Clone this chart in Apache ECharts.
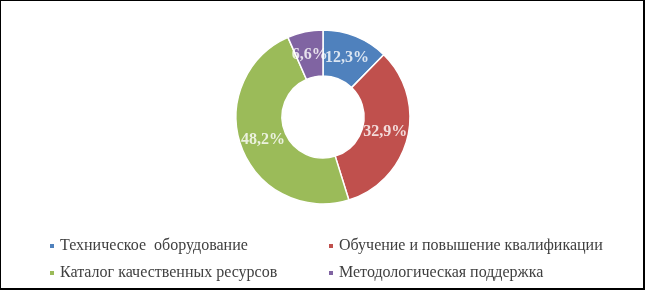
<!DOCTYPE html>
<html>
<head>
<meta charset="utf-8">
<script src="https://cdn.jsdelivr.net/npm/echarts@6/dist/echarts.min.js"></script>
<style>
html,body{margin:0;padding:0;background:#fff;}
#c{width:645px;height:290px;box-sizing:border-box;border:1px solid #000;border-right-width:2px;border-bottom-width:2px;}
</style>
</head>
<body>
<div id="c"></div>
<script>
const categories = ['Техническое  оборудование', 'Обучение и повышение квалификации', 'Каталог качественных ресурсов', 'Методологическая поддержка'];
const values = [12.3, 32.9, 48.2, 6.6];
const colors = ['#4F81BD', '#C0504D', '#9BBB59', '#8064A2'];

const total = values.reduce((a, b) => a + b, 0);
let acc = 0;
const midAngles = values.map(v => { const m = acc + v / 2; acc += v; return m; });

const serif = '"Liberation Serif", "Times New Roman", serif';
const chart = echarts.init(document.getElementById('c'), null, {renderer: 'canvas'});
const legendText = {fontFamily: serif, fontSize: 16, color: '#404040'};
const C = [322, 116], R0 = 41, R1 = 87;
chart.setOption({
  animation: false,
  color: colors,
  legend: [
    {data: [categories[0], categories[2]], orient: 'vertical', left: 47, top: 237, itemWidth: 6, itemHeight: 6, itemGap: 11, icon: 'rect', textStyle: legendText, padding: 0},
    {data: [categories[1], categories[3]], orient: 'vertical', left: 326, top: 237, itemWidth: 6, itemHeight: 6, itemGap: 11, icon: 'rect', textStyle: legendText, padding: 0}
  ],
  polar: {center: C, radius: R1},
  angleAxis: {type: 'value', min: 0, max: total, startAngle: 90, clockwise: true, show: false},
  radiusAxis: {type: 'value', min: 0, max: R1, show: false},
  series: [{
    type: 'pie',
    center: C,
    radius: [R0, R1],
    startAngle: 90,
    clockwise: true,
    avoidLabelOverlap: false,
    itemStyle: {borderColor: '#fff', borderWidth: 1.5},
    label: {show: false},
    labelLine: {show: false},
    data: categories.map((n, i) => ({name: n, value: values[i]}))
  }, {
    type: 'scatter',
    coordinateSystem: 'polar',
    symbolSize: 0,
    silent: true,
    z: 5,
    label: {
      show: true,
      position: 'inside',
      color: '#fff',
      fontFamily: serif,
      fontWeight: 'bold',
      fontSize: 16,
      formatter: p => p.value[2].toFixed(1).replace('.', ',') + '%'
    },
    data: values.map((v, i) => [(R0 + R1) / 2, midAngles[i], v])
  }]
});
</script>
</body>
</html>
